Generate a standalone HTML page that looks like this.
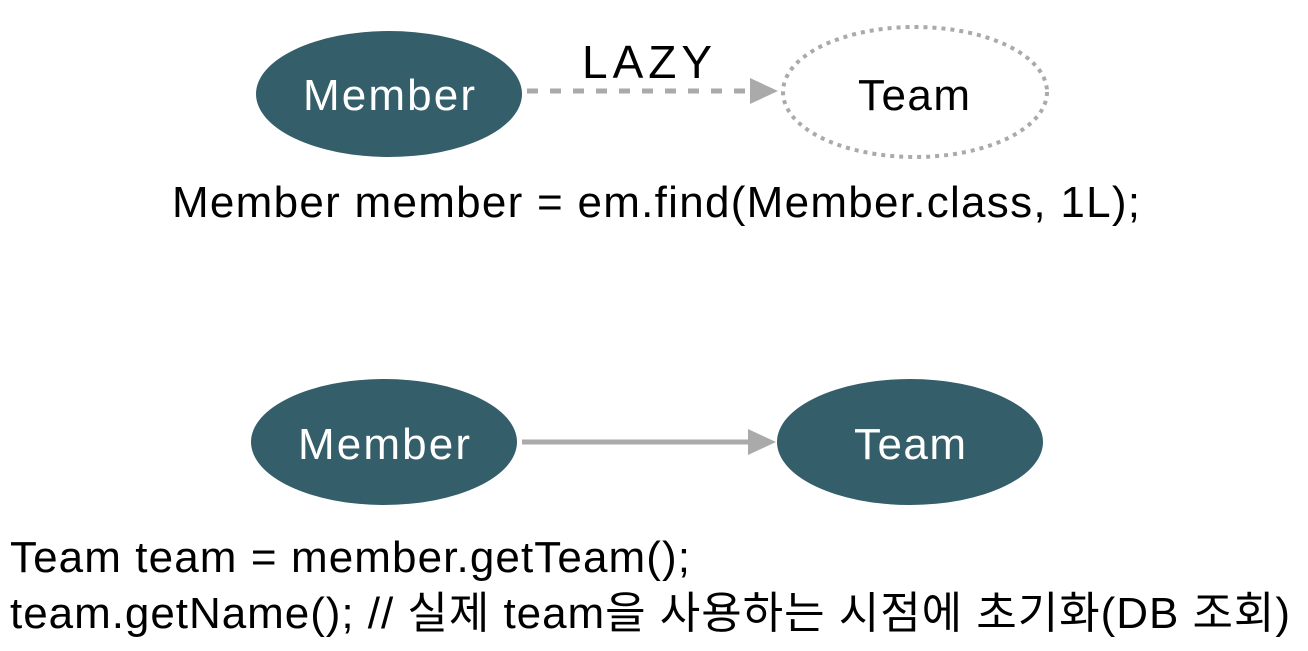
<!DOCTYPE html>
<html><head><meta charset="utf-8"><style>html,body{margin:0;padding:0;background:#fff}svg{display:block}</style></head><body>
<svg width="1308" height="651" viewBox="0 0 1308 651" xmlns="http://www.w3.org/2000/svg" font-family="Liberation Sans, Noto Sans CJK KR, sans-serif">
<ellipse cx="389" cy="94" rx="133" ry="63" fill="#335e6a"/>
<text x="389" y="110" font-size="44" fill="#fff" text-anchor="middle" textLength="172">Member</text>
<line x1="527" y1="91" x2="752" y2="91" stroke="#aaa" stroke-width="5" stroke-dasharray="11,12"/>
<polygon points="750,78 778,91 750,104" fill="#aaa"/>
<text x="647" y="78" font-size="46" fill="#000" text-anchor="middle" textLength="130">LAZY</text>
<ellipse cx="915" cy="92" rx="132" ry="65" fill="none" stroke="#aaa" stroke-width="4" stroke-dasharray="4,5"/>
<text x="914" y="110" font-size="44" fill="#000" text-anchor="middle" textLength="112">Team</text>
<text x="172" y="217" font-size="44" fill="#000" textLength="968">Member member = em.find(Member.class, 1L);</text>
<ellipse cx="384" cy="442" rx="133" ry="63" fill="#335e6a"/>
<text x="384" y="459" font-size="44" fill="#fff" text-anchor="middle" textLength="172">Member</text>
<line x1="522" y1="442" x2="750" y2="442" stroke="#aaa" stroke-width="5"/>
<polygon points="748,429 776,442 748,455" fill="#aaa"/>
<ellipse cx="910" cy="442" rx="133" ry="63" fill="#335e6a"/>
<text x="910" y="459" font-size="44" fill="#fff" text-anchor="middle" textLength="112">Team</text>
<text x="10" y="572" font-size="44" fill="#000" textLength="680">Team team = member.getTeam();</text>
<text x="10" y="628" font-size="44" fill="#000" textLength="1280">team.getName(); // 실제 team을 사용하는 시점에 초기화(DB 조회)</text>
</svg>
</body></html>
